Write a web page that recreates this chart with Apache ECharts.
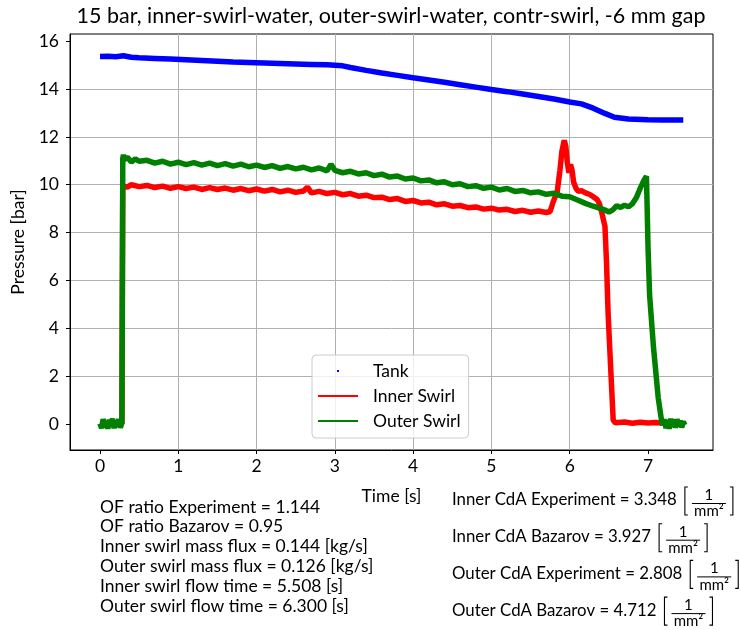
<!DOCTYPE html>
<html>
<head>
<meta charset="utf-8">
<script src="https://cdn.jsdelivr.net/npm/echarts@6/dist/echarts.min.js"></script>
<style>
  html, body { margin: 0; padding: 0; background: #fff; }
  #chart { width: 740px; height: 630px; }
</style>
</head>
<body>
<div id="chart"></div>
<script>
// ---- text ----
const chartTitle = '15 bar, inner-swirl-water, outer-swirl-water, contr-swirl, -6 mm gap';
const xAxisTitle = 'Time [s]';
const yAxisTitle = 'Pressure [bar]';
const seriesNames = ['Tank', 'Inner Swirl', 'Outer Swirl'];
const xTicks = [0, 1, 2, 3, 4, 5, 6, 7];
const yTicks = [0, 2, 4, 6, 8, 10, 12, 14, 16];
const statsLines = [
  'OF ratio Experiment = 1.144',
  'OF ratio Bazarov = 0.95',
  'Inner swirl mass flux = 0.144 [kg/s]',
  'Outer swirl mass flux = 0.126 [kg/s]',
  'Inner swirl flow time = 5.508 [s]',
  'Outer swirl flow time = 6.300 [s]'
];
const cdaLines = [
  'Inner CdA Experiment = 3.348',
  'Inner CdA Bazarov = 3.927',
  'Outer CdA Experiment = 2.808',
  'Outer CdA Bazarov = 4.712'
];
const cdaUnitNumerator = '1';
const cdaUnitDenominator = 'mm\u00B2';

// ---- measured pressures ----
const tankTime = [0, 0.1, 0.2, 0.3, 0.4, 0.5, 0.7, 0.9, 1.1, 1.3, 1.5, 1.7, 1.9, 2.1, 2.3, 2.5, 2.7, 2.9,
  3.0, 3.1, 3.2, 3.4, 3.6, 3.8, 4.0, 4.2, 4.4, 4.6, 4.8, 5.0, 5.2, 5.4, 5.6, 5.8, 6.0, 6.15, 6.3, 6.45,
  6.57, 6.75, 7.0, 7.2, 7.45];
const tankPressure = [15.36, 15.37, 15.35, 15.39, 15.33, 15.31, 15.28, 15.25, 15.22, 15.19, 15.16, 15.13,
  15.11, 15.09, 15.07, 15.05, 15.03, 15.01, 14.99, 14.97, 14.9, 14.78, 14.67, 14.57, 14.47, 14.38, 14.28,
  14.18, 14.08, 13.98, 13.89, 13.79, 13.69, 13.58, 13.46, 13.38, 13.2, 12.98, 12.82, 12.75, 12.72, 12.7, 12.7];

const innerTime = [0, 0.04, 0.08, 0.12, 0.16, 0.2, 0.24, 0.28, 0.29, 0.291, 0.3, 0.35, 0.4, 0.5, 0.6, 0.7,
  0.8, 0.9, 1.0, 1.1, 1.2, 1.3, 1.4, 1.5, 1.6, 1.7, 1.8, 1.9, 2.0, 2.1, 2.2, 2.3, 2.4, 2.5, 2.6, 2.65, 2.7,
  2.8, 2.9, 3.0, 3.1, 3.2, 3.3, 3.4, 3.5, 3.6, 3.7, 3.8, 3.9, 4.0, 4.1, 4.2, 4.3, 4.4, 4.5, 4.6, 4.7, 4.8,
  4.9, 5.0, 5.1, 5.2, 5.3, 5.4, 5.5, 5.6, 5.7, 5.75, 5.79, 5.84, 5.875, 5.9, 5.93, 5.95, 5.97, 5.99, 6.01,
  6.03, 6.05, 6.08, 6.11, 6.15, 6.2, 6.25, 6.3, 6.35, 6.38, 6.41, 6.45, 6.47, 6.49, 6.52, 6.555, 6.58, 6.7,
  6.8, 6.9, 7.0, 7.1, 7.2];
const innerPressure = [0.02, -0.03, 0.03, -0.02, 0.02, -0.03, 0.03, 0.01, 0.0, 9.95, 9.98, 9.9, 10.0, 9.92,
  9.97, 9.88, 9.94, 9.85, 9.92, 9.84, 9.9, 9.8, 9.88, 9.8, 9.86, 9.77, 9.84, 9.75, 9.82, 9.73, 9.8, 9.7,
  9.77, 9.68, 9.74, 9.9, 9.66, 9.72, 9.63, 9.68, 9.58, 9.63, 9.52, 9.56, 9.46, 9.48, 9.38, 9.42, 9.3, 9.34,
  9.24, 9.27, 9.16, 9.2, 9.1, 9.13, 9.04, 9.07, 8.98, 9.02, 8.94, 8.97, 8.88, 8.93, 8.85, 8.9, 8.84, 8.88,
  9.3, 9.7, 10.6, 11.4, 11.85, 11.6, 10.9, 10.5, 10.85, 10.6, 10.1, 9.85, 9.72, 9.75, 9.66, 9.6, 9.5, 9.38,
  9.2, 8.82, 8.26, 6.74, 4.63, 2.55, 0.17, 0.05, 0.08, 0.03, 0.07, 0.04, 0.06, 0.03];

const outerTime = [0, 0.02, 0.04, 0.06, 0.08, 0.1, 0.12, 0.14, 0.16, 0.18, 0.2, 0.22, 0.24, 0.26, 0.28,
  0.29, 0.291, 0.3, 0.31, 0.35, 0.4, 0.45, 0.5, 0.6, 0.7, 0.8, 0.9, 1.0, 1.1, 1.2, 1.3, 1.4, 1.5, 1.6, 1.7,
  1.8, 1.9, 2.0, 2.1, 2.2, 2.3, 2.4, 2.5, 2.6, 2.7, 2.8, 2.9, 2.95, 3.0, 3.1, 3.2, 3.3, 3.4, 3.5, 3.6, 3.7,
  3.8, 3.9, 4.0, 4.1, 4.2, 4.3, 4.4, 4.5, 4.6, 4.7, 4.8, 4.9, 5.0, 5.1, 5.2, 5.3, 5.4, 5.5, 5.6, 5.7, 5.8,
  5.9, 6.0, 6.1, 6.2, 6.3, 6.4, 6.45, 6.5, 6.55, 6.6, 6.65, 6.7, 6.75, 6.8, 6.85, 6.9, 6.95, 6.98, 7.0,
  7.02, 7.07, 7.13, 7.17, 7.19, 7.21, 7.23, 7.25, 7.27, 7.29, 7.31, 7.33, 7.35, 7.37, 7.39, 7.41, 7.43,
  7.45, 7.47];
const outerPressure = [0.02, -0.18, 0.2, -0.14, 0.12, -0.2, 0.18, -0.1, 0.22, -0.18, 0.14, -0.12, 0.2,
  -0.16, 0.05, 0.0, 11.1, 11.25, 11.05, 11.15, 10.95, 11.08, 10.98, 11.02, 10.9, 10.98, 10.86, 10.94,
  10.84, 10.92, 10.82, 10.9, 10.8, 10.88, 10.78, 10.86, 10.75, 10.82, 10.72, 10.8, 10.68, 10.76, 10.66,
  10.73, 10.62, 10.7, 10.58, 10.85, 10.6, 10.5, 10.56, 10.45, 10.5, 10.38, 10.44, 10.32, 10.36, 10.24,
  10.28, 10.16, 10.2, 10.08, 10.12, 10.0, 10.04, 9.92, 9.96, 9.85, 9.9, 9.78, 9.84, 9.72, 9.76, 9.66, 9.7,
  9.6, 9.64, 9.52, 9.5, 9.36, 9.22, 9.1, 9.0, 8.94, 8.86, 8.95, 9.12, 9.05, 9.14, 9.08, 9.2, 9.45, 9.85,
  10.2, 10.35, 7.4, 5.4, 3.2, 1.1, 0.2, -0.05, 0.2, -0.18, 0.15, -0.2, 0.22, -0.12, 0.18, -0.16, 0.2,
  -0.1, 0.14, -0.15, 0.1, -0.05];

// ---- look ----
const FONT = 'Lato';
const C_TANK = '#0000ff', C_INNER = '#ff0000', C_OUTER = '#008000';
const GRID = { left: 70, right: 27, top: 34, bottom: 180 };

const pairs = (xs, ys) => xs.map((x, i) => [x, ys[i]]);

const measureCtx = document.createElement('canvas').getContext('2d');
function textWidth(str, size) {
  measureCtx.font = size + 'px ' + FONT;
  return measureCtx.measureText(str).width;
}
// font size that makes a string span the given width
function fitSize(str, width, maxSize) {
  return Math.min(maxSize, 20 * width / textWidth(str, 20));
}

const titleSize = fitSize(chartTitle, 629, 24);
const cdaSize = fitSize(cdaLines[0], 225, 20);
const unitSize = 15;

// title and the two annotation blocks under the plot
const graphic = [];
graphic.push({
  type: 'text',
  style: { text: chartTitle, x: 391, y: 16, align: 'center', verticalAlign: 'middle',
           font: titleSize.toFixed(2) + 'px ' + FONT, fill: '#000' }
});
statsLines.forEach((line, i) => {
  graphic.push({
    type: 'text',
    style: { text: line, x: 100, y: 507 + i * 19.8, verticalAlign: 'middle',
             font: '17.5px ' + FONT, fill: '#000' }
  });
});
// each CdA line: value text, then a bracketed 1/mm² fraction
cdaLines.forEach((line, i) => {
  const cy = 500 + i * 36.7;
  const x0 = 452;
  const end = x0 + textWidth(line, cdaSize);
  const fw = Math.max(34, textWidth(cdaUnitDenominator, unitSize) + 2);
  const bl = end + 8, fx = end + 15, br = fx + fw + 7;
  const stroke = { stroke: '#000', lineWidth: 1.1, fill: null };
  graphic.push(
    { type: 'text', style: { text: line, x: x0, y: cy, verticalAlign: 'middle', font: cdaSize.toFixed(2) + 'px ' + FONT, fill: '#000' } },
    { type: 'polyline', shape: { points: [[bl + 3, cy - 13], [bl, cy - 13], [bl, cy + 15], [bl + 3, cy + 15]] }, style: stroke },
    { type: 'polyline', shape: { points: [[br - 3, cy - 13], [br, cy - 13], [br, cy + 15], [br - 3, cy + 15]] }, style: stroke },
    { type: 'text', style: { text: cdaUnitNumerator, x: fx + fw / 2, y: cy - 5, align: 'center', verticalAlign: 'middle', font: unitSize + 'px ' + FONT, fill: '#000' } },
    { type: 'line', shape: { x1: fx, y1: cy + 3.5, x2: fx + fw, y2: cy + 3.5 }, style: { stroke: '#000', lineWidth: 1 } },
    { type: 'text', style: { text: cdaUnitDenominator, x: fx + fw / 2, y: cy + 11.5, align: 'center', verticalAlign: 'middle', font: unitSize + 'px ' + FONT, fill: '#000' } }
  );
});

const axisCommon = {
  type: 'value',
  axisLine: { show: true, onZero: false, lineStyle: { color: '#000', width: 1 } },
  splitLine: { show: true, showMinLine: false, showMaxLine: false, lineStyle: { color: '#b0b0b0', width: 1 } },
  nameLocation: 'middle',
  nameTextStyle: { fontFamily: FONT, fontSize: 17.5, color: '#000' }
};

const option = {
  animation: false,
  backgroundColor: '#fff',
  grid: Object.assign({ show: true, borderColor: '#000', borderWidth: 1, backgroundColor: 'transparent' }, GRID),
  xAxis: Object.assign({}, axisCommon, {
    min: -0.383, max: 7.83, splitNumber: 8,
    axisTick: { show: true, customValues: xTicks, length: 4, lineStyle: { color: '#000' } },
    axisLabel: { customValues: xTicks, margin: 7, fontFamily: FONT, fontSize: 17.5, color: '#000' },
    name: xAxisTitle, nameGap: 37
  }),
  yAxis: Object.assign({}, axisCommon, {
    min: -1.09, max: 16.3, splitNumber: 9,
    axisTick: { show: true, customValues: yTicks, length: 4, lineStyle: { color: '#000' } },
    axisLabel: { customValues: yTicks, margin: 11, fontFamily: FONT, fontSize: 17.5, color: '#000' },
    name: yAxisTitle, nameGap: 33
  }),
  legend: {
    orient: 'vertical', left: 312, top: 355,
    padding: [6, 8, 7, 6], itemGap: 5, itemWidth: 50, itemHeight: 4,
    backgroundColor: 'rgba(255,255,255,0.8)', borderColor: '#cccccc', borderWidth: 1, borderRadius: 4,
    textStyle: { fontFamily: FONT, fontSize: 17.5, color: '#000', lineHeight: 20 },
    data: [
      { name: seriesNames[0], icon: 'path://M0,0M50,4M19,1h2v2h-2z' },
      { name: seriesNames[1], icon: 'path://M0,0M50,4M0,1h40v2h-40z' },
      { name: seriesNames[2], icon: 'path://M0,0M50,4M0,1h40v2h-40z' }
    ]
  },
  graphic: graphic,
  series: [
    { name: seriesNames[0], type: 'line', data: pairs(tankTime, tankPressure), color: C_TANK,
      showSymbol: false, lineStyle: { color: C_TANK, width: 5.5 } },
    { name: seriesNames[1], type: 'line', data: pairs(innerTime, innerPressure), color: C_INNER,
      showSymbol: false, lineStyle: { color: C_INNER, width: 5.5 } },
    { name: seriesNames[2], type: 'line', data: pairs(outerTime, outerPressure), color: C_OUTER,
      showSymbol: false, lineStyle: { color: C_OUTER, width: 5.5 } }
  ]
};

const chart = echarts.init(document.getElementById('chart'), null, { renderer: 'canvas' });
chart.setOption(option);
</script>
</body>
</html>
